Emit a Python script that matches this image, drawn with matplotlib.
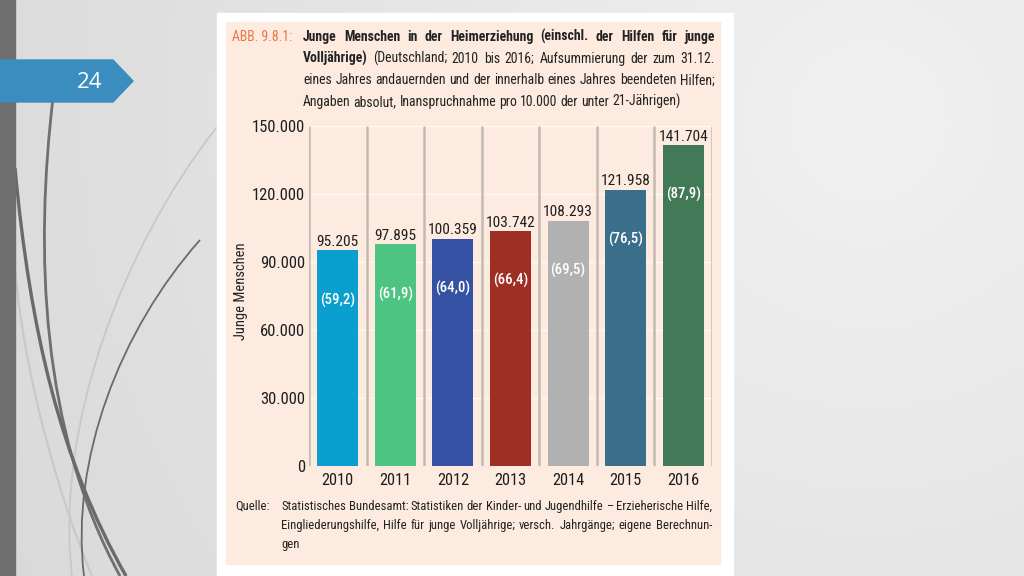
import matplotlib
matplotlib.use('Agg')
import matplotlib.pyplot as plt
from matplotlib.patches import Rectangle, Polygon, PathPatch
from matplotlib.path import Path
import numpy as np

# ---------------- data ----------------
years = ['2010', '2011', '2012', '2013', '2014', '2015', '2016']
values = [95205, 97895, 100359, 103742, 108293, 121958, 141704]
value_labels = ['95.205', '97.895', '100.359', '103.742', '108.293', '121.958', '141.704']
rates = ['(59,2)', '(61,9)', '(64,0)', '(66,4)', '(69,5)', '(76,5)', '(87,9)']
bar_colors = ['#0a9fcf', '#4dc481', '#3551a3', '#a02f23', '#b1b1b1', '#3a6f8b', '#427a57']
yticks = [0, 30000, 60000, 90000, 120000, 150000]
ytick_labels = ['0', '30.000', '60.000', '90.000', '120.000', '150.000']

title_lines = [
    [("Junge Menschen in der Heimerziehung (einschl. der Hilfen für junge", 'bold')],
    [("Volljährige)", 'bold'), ("(Deutschland; 2010 bis 2016; Aufsummierung der zum 31.12.", 'normal')],
    [("eines Jahres andauernden und der innerhalb eines Jahres beendeten Hilfen;", 'normal')],
    [("Angaben absolut, Inanspruchnahme pro 10.000 der unter 21-Jährigen)", 'normal')],
]
source_lines = [
    "Statistisches Bundesamt: Statistiken der Kinder- und Jugendhilfe – Erzieherische Hilfe,",
    "Eingliederungshilfe, Hilfe für junge Volljährige; versch. Jahrgänge; eigene Berechnun-",
    "gen",
]

plt.rcParams['font.family'] = ['Roboto Condensed', 'Liberation Sans', 'DejaVu Sans']

W, H = 1024, 576
fig = plt.figure(figsize=(W / 100, H / 100), dpi=100)
renderer = fig.canvas.get_renderer()

# ---------------- slide background ----------------
bg = fig.add_axes([0, 0, 1, 1])
bg.set_xlim(0, W)
bg.set_ylim(H, 0)
bg.axis('off')


def text_width(s, size, weight='normal', family=None):
    kw = {} if family is None else {'family': family}
    t = bg.text(0, 0, s, fontsize=size, fontweight=weight, **kw)
    w = t.get_window_extent(renderer).width
    t.remove()
    return w


def fit(s, target, weight='normal', base=12, family=None):
    return base * target / text_width(s, base, weight, family)


gx, gy = np.meshgrid(np.linspace(0, W, 256), np.linspace(0, H, 144))
dist = np.hypot(gx - 870, gy - 120)
gray = 0.945 - 0.085 * dist / 900
img = np.dstack([gray, gray, gray])
bg.imshow(img, extent=(0, W, H, 0), aspect='auto', zorder=0)


def curve(pts, color, lw):
    p = Path(pts, [Path.MOVETO, Path.CURVE4, Path.CURVE4, Path.CURVE4])
    bg.add_patch(PathPatch(p, facecolor='none', edgecolor=color, lw=lw, zorder=1))


curve([(217, 127), (120, 250), (55, 430), (72, 576)], '#c8c8c8', 1.3)
curve([(15, 270), (25, 380), (60, 500), (92, 576)], '#c9c9c9', 1.6)
curve([(200, 240), (120, 330), (70, 460), (84, 576)], '#6a6a6a', 1.3)
curve([(53, 98), (35, 250), (40, 430), (120, 576)], '#6f6f6f', 2.0)
curve([(15, 168), (30, 330), (60, 460), (126, 576)], '#6a6a6a', 2.4)

bg.add_patch(Rectangle((0, 0), 15, H, color='#6e6e6e', zorder=2))
bg.add_patch(Polygon([(0, 60), (113, 60), (133, 81), (113, 102), (0, 102)],
                     closed=True, color='#3b8cbf', zorder=3))
bg.text(90, 82, '24', color='white', fontsize=16, ha='center', va='center',
        family=['Open Sans', 'DejaVu Sans'], zorder=4)

bg.add_patch(Rectangle((217, 13), 733 - 217, H - 13, color='white', zorder=2))
bg.add_patch(Rectangle((226, 22), 720 - 226, 564 - 22, color='#fdebe0', zorder=2))

TXT = '#222222'


def words_of(segs):
    out = []
    for t, w in segs:
        for word in t.split(' '):
            if word:
                out.append((word, w))
    return out


def natural_width(segs, size):
    ws = words_of(segs)
    tot = sum(text_width(w, size, wt) for w, wt in ws)
    return tot + (len(ws) - 1) * 0.22 * size * 100 / 72


def place_line(segs, x0, x1, y, size, justify=True, color=TXT):
    words = words_of(segs)
    arts, widths = [], []
    for word, w in words:
        a = bg.text(x0, y, word, fontsize=size, fontweight=w, ha='left',
                    va='baseline', color=color, zorder=5)
        arts.append(a)
        widths.append(a.get_window_extent(renderer).width)
    if justify and len(words) > 1:
        gap = (x1 - x0 - sum(widths)) / (len(words) - 1)
    else:
        gap = 0.22 * size * 100 / 72
    x = x0
    for a, wd in zip(arts, widths):
        a.set_x(x)
        x += wd + gap


# title
t_size = min(12 * 0.995 * 412 / natural_width(l, 12) for l in title_lines[:3])
bg.text(232, 41, 'ABB. 9.8.1:', color='#ee7644', fontsize=t_size, ha='left',
        va='baseline', zorder=5)
baselines = [41, 62.7, 84.4, 106]
for i, (segs, yb) in enumerate(zip(title_lines, baselines)):
    place_line(segs, 303, 715, yb, t_size, justify=(i < len(title_lines) - 1))

# source
s_size = min(11 * 0.995 * 431 / natural_width([(l, 'normal')], 11) for l in source_lines[:2])
bg.text(235, 510, 'Quelle:', color=TXT, fontsize=s_size, ha='left',
        va='baseline', zorder=5)
src_base = [510, 529, 548]
for i, (t, yb) in enumerate(zip(source_lines, src_base)):
    place_line([(t, 'normal')], 281, 712, yb, s_size, justify=(i < len(source_lines) - 1))

# y-axis label
yl_size = fit('Junge Menschen', 97, base=10)
bg.text(241, 291, 'Junge Menschen', rotation=90, fontsize=yl_size, ha='center',
        va='center', color=TXT, zorder=5)

# ---------------- chart ----------------
tick_size = fit('150.000', 53)
year_size = fit('2010', 32)
val_size = fit('95.205', 42)
rate_size = fit('(59,2)', 35, weight='medium')

ax = fig.add_axes([309 / W, 1 - 466 / H, (712 - 309) / W, (466 - 126) / H], zorder=5)
ax.set_facecolor('none')
x = np.arange(len(years))
ax.bar(x, values, width=0.71, color=bar_colors, zorder=3)
ax.set_xlim(-0.5, len(years) - 0.5)
ax.set_ylim(0, 150000)
ax.vlines(np.arange(-0.5, len(years) + 0.5, 1), 0, 150000, color='#c2bab2', lw=1.8, zorder=1)
ax.set_yticks(yticks)
ax.set_yticklabels(ytick_labels)
ax.set_xticks(x)
ax.set_xticklabels(years)
ax.yaxis.grid(True, color='white', lw=1.0, alpha=0.7, zorder=0)
ax.set_axisbelow(True)
for s in ax.spines.values():
    s.set_visible(False)
ax.tick_params(axis='y', length=0, labelsize=tick_size, pad=3, labelcolor='#1e1e1e')
ax.tick_params(axis='x', length=0, labelsize=year_size, pad=5, labelcolor='#1e1e1e')

for i, v in enumerate(values):
    ax.annotate(value_labels[i], (i, v), xytext=(0, 3), textcoords='offset points',
                ha='center', va='baseline', fontsize=val_size, color='#1e1e1e', zorder=6)
    ax.text(i, v - 22000, rates[i], ha='center', va='center', fontsize=rate_size,
            fontweight='medium', color='white', zorder=6)

fig.savefig('out.png', dpi=100)
